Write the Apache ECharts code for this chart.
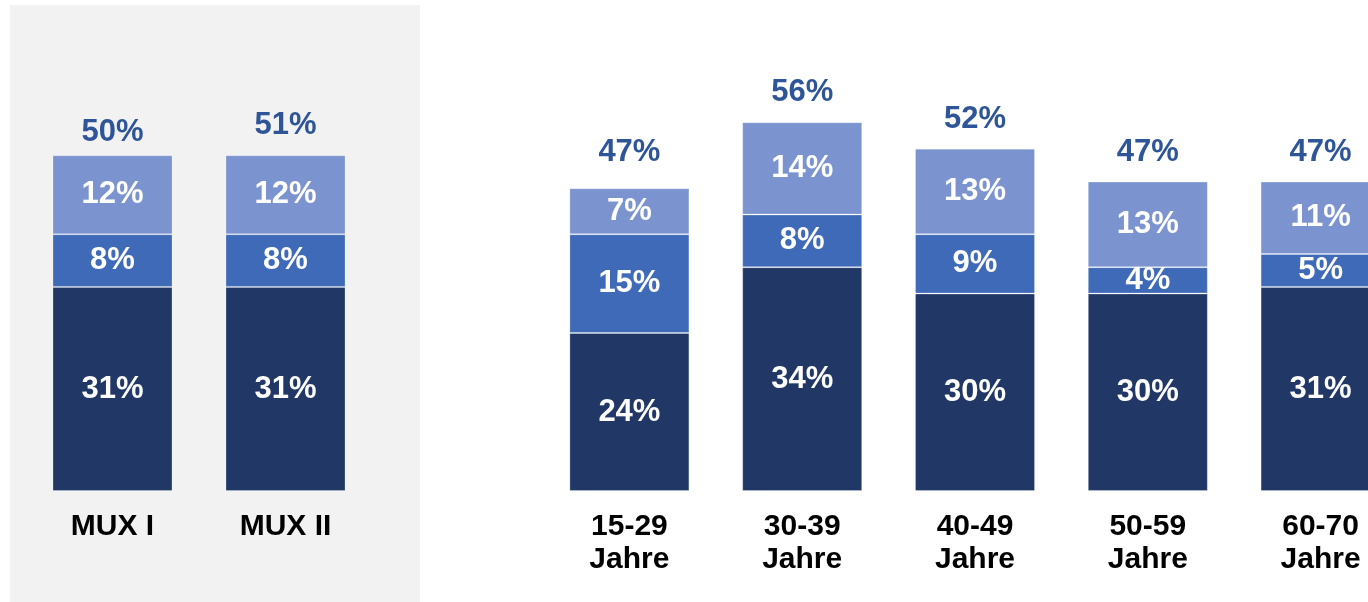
<!DOCTYPE html>
<html>
<head>
<meta charset="utf-8">
<script src="https://cdn.jsdelivr.net/npm/echarts@6/dist/echarts.min.js"></script>
<style>
	html, body { margin: 0; padding: 0; background: #ffffff; }
	#main { width: 1368px; height: 602px; }
</style>
</head>
<body>
<div id="main"></div>
<script>
// MUX Vergleich (links, grau hinterlegt)
var muxCategories = ['MUX I', 'MUX II'];
var muxBottom = [31, 31];
var muxMiddle = [8, 8];
var muxTop = [12, 12];
var muxTotal = [50, 51];

// Altersgruppen (rechts)
var ageCategories = ['15-29\nJahre', '30-39\nJahre', '40-49\nJahre', '50-59\nJahre', '60-70\nJahre'];
var ageBottom = [24, 34, 30, 30, 31];
var ageMiddle = [15, 8, 9, 4, 5];
var ageTop = [7, 14, 13, 13, 11];
var ageTotal = [47, 56, 52, 47, 47];

var colors = ['#213867', '#3f6ab8', '#7b93cf'];
var totalColor = '#2e5597';
var fontName = 'Arial, "Liberation Sans", sans-serif';

function stackSeries(name, data, color, axisIndex) {
	return {
		name: name,
		type: 'bar',
		stack: 'g' + axisIndex,
		xAxisIndex: axisIndex,
		yAxisIndex: axisIndex,
		barWidth: 120,
		data: data,
		itemStyle: {
			color: color,
			borderColor: 'rgba(255,255,255,0.25)',
			borderWidth: 1
		},
		label: {
			show: true,
			position: 'inside',
			color: '#ffffff',
			fontFamily: fontName,
			fontWeight: 'bold',
			fontSize: 31,
			formatter: '{c}%'
		},
		silent: true
	};
}

function totalSeries(data, axisIndex) {
	return {
		type: 'scatter',
		xAxisIndex: axisIndex,
		yAxisIndex: axisIndex,
		symbolSize: 0,
		data: data,
		z: 10,
		itemStyle: { opacity: 1 },
		label: {
			show: true,
			position: 'top',
			distance: 14,
			color: totalColor,
			fontFamily: fontName,
			fontWeight: 'bold',
			fontSize: 31,
			formatter: '{c}%'
		},
		silent: true
	};
}

function makeXAxis(cats, gridIndex) {
	return {
		type: 'category',
		gridIndex: gridIndex,
		data: cats,
		axisLine: { show: false },
		axisTick: { show: false },
		axisLabel: {
			margin: 19,
			color: '#000000',
			fontFamily: fontName,
			fontWeight: 'bold',
			fontSize: 30,
			lineHeight: 33,
			interval: 0
		}
	};
}

function makeYAxis(gridIndex) {
	return {
		type: 'value',
		gridIndex: gridIndex,
		min: 0,
		max: 60,
		show: false,
		splitLine: { show: false }
	};
}

function drawChart(showAreaId) {
	var myChart = echarts.init(document.getElementById(showAreaId));
	var option = {
		animation: false,
		backgroundColor: '#ffffff',
		graphic: [
			{
				type: 'rect',
				left: 10,
				top: 5,
				shape: { width: 410, height: 597 },
				style: { fill: '#f2f2f2' },
				z: -10,
				silent: true
			}
		],
		grid: [
			{ left: 26, width: 346, top: 96, bottom: 111, outerBoundsMode: 'none' },
			{ left: 543, width: 864, top: 96, bottom: 111, outerBoundsMode: 'none' }
		],
		xAxis: [makeXAxis(muxCategories, 0), makeXAxis(ageCategories, 1)],
		yAxis: [makeYAxis(0), makeYAxis(1)],
		series: [
			stackSeries('unten', muxBottom, colors[0], 0),
			stackSeries('mitte', muxMiddle, colors[1], 0),
			stackSeries('oben', muxTop, colors[2], 0),
			totalSeries(muxTotal, 0),
			stackSeries('unten', ageBottom, colors[0], 1),
			stackSeries('mitte', ageMiddle, colors[1], 1),
			stackSeries('oben', ageTop, colors[2], 1),
			totalSeries(ageTotal, 1)
		]
	};
	myChart.setOption(option);
}

drawChart('main');
</script>
</body>
</html>
